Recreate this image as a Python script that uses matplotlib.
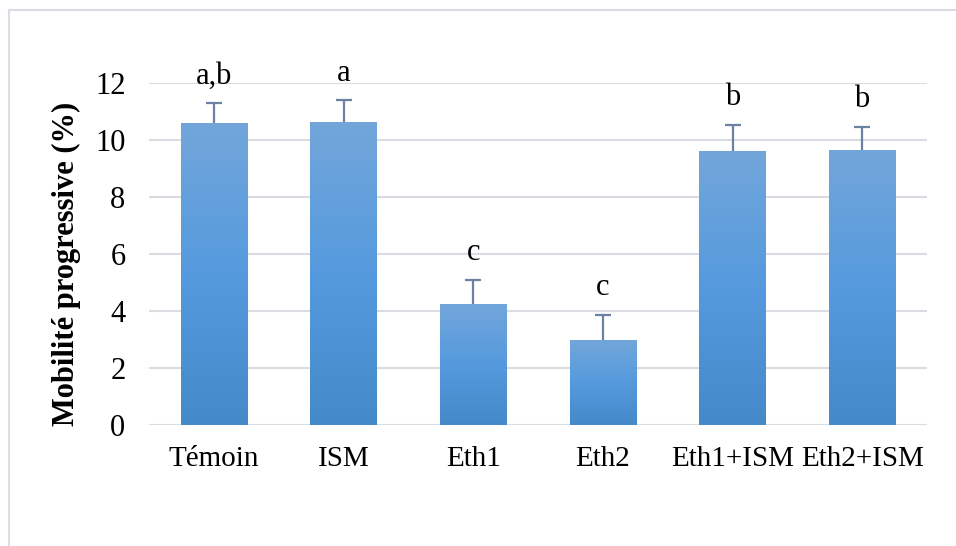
import numpy as np
import matplotlib.pyplot as plt
from matplotlib.colors import LinearSegmentedColormap
from matplotlib.patches import Rectangle

# Mobilité progressive par traitement
categories = ["Témoin", "ISM", "Eth1", "Eth2", "Eth1+ISM", "Eth2+ISM"]
means = [10.6, 10.63, 4.25, 2.98, 9.62, 9.65]
errors = [0.7, 0.77, 0.85, 0.88, 0.92, 0.82]
letters = ["a,b", "a", "c", "c", "b", "b"]

plt.rcParams['font.family'] = ['Liberation Serif', 'DejaVu Serif']

fig = plt.figure(figsize=(9.56, 5.46), dpi=100)
ax = fig.add_axes([149 / 956, 1 - 425 / 546, (927 - 149) / 956, (425 - 83) / 546])

# light frame around the chart area
fig.patches.append(Rectangle((9 / 956, -0.1), 1.2, 1 - 10 / 546 + 0.1,
                             transform=fig.transFigure, fill=False,
                             edgecolor='#d9dde3', linewidth=1.5))

x = np.arange(len(categories))
bars = ax.bar(x, means, width=0.51, color='none', edgecolor='none', zorder=3)

# vertical gradient inside each bar: lighter on top, darker at the base
cmap = LinearSegmentedColormap.from_list('bleu', ['#4489c8', '#559ade', '#72a6da'])
grad = np.linspace(0, 1, 256).reshape(-1, 1)
for b in bars:
    x0, w, h = b.get_x(), b.get_width(), b.get_height()
    im = ax.imshow(grad, cmap=cmap, origin='lower', aspect='auto',
                   extent=[x0, x0 + w, 0, h], zorder=3)
    im.set_clip_path(b)

# upper error bars only
_, caps, _ = ax.errorbar(x, means, yerr=[np.zeros(len(means)), errors], fmt='none',
                         ecolor='#6b82a3', elinewidth=1.6, capsize=6, capthick=1.6,
                         zorder=4)
caps[0].set_visible(False)

for xi, m, e, lab in zip(x, means, errors, letters):
    ax.annotate(lab, (xi, m + e), xytext=(0, 9), textcoords='offset points',
                ha='center', va='bottom', fontsize=22)

ax.set_xlim(-0.5, len(categories) - 0.5)
ax.set_ylim(0, 12)
ax.set_yticks(range(0, 13, 2))
ax.set_xticks(x)
ax.set_xticklabels(categories)
ax.tick_params(axis='both', length=0)
ax.tick_params(axis='y', pad=17, labelsize=22)
ax.tick_params(axis='x', pad=15, labelsize=21)
ax.grid(axis='y', color='#d9dde3', linewidth=1.5, zorder=0)
ax.set_axisbelow(True)
for s in ax.spines.values():
    s.set_visible(False)

ax.set_ylabel("Mobilité progressive (%)", fontsize=22, fontweight='bold')
ax.yaxis.set_label_coords(-0.088, 0.47)

fig.savefig("out.png", dpi=100)
